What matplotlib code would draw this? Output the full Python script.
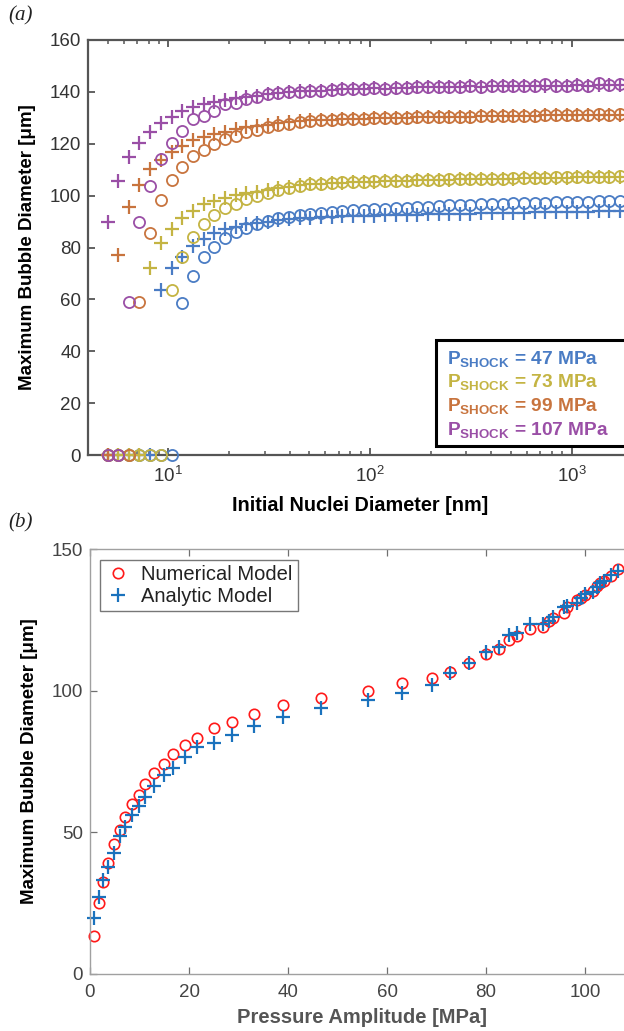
import matplotlib
matplotlib.use("Agg")
import matplotlib.pyplot as plt
from matplotlib.ticker import LogLocator, NullFormatter, LogFormatterSciNotation
from matplotlib.patches import Rectangle

plt.rcParams['font.family'] = ['Liberation Sans', 'DejaVu Sans']
plt.rcParams['mathtext.fontset'] = 'custom'
plt.rcParams['mathtext.rm'] = 'Liberation Sans'
plt.rcParams['mathtext.bf'] = 'Liberation Sans:bold'
plt.rcParams['mathtext.it'] = 'Liberation Sans:italic'

# ---------------- data: panel (a) ----------------
nuclei_nm = [5.00, 5.65, 6.38, 7.20, 8.14, 9.19, 10.4, 11.7, 13.3, 15.0,
             16.9, 19.1, 21.6, 24.4, 27.5, 31.1, 35.1, 39.7, 44.8, 50.6,
             57.2, 64.6, 73.0, 82.4, 93.1, 105, 119, 134, 152, 171,
             194, 219, 247, 279, 315, 356, 402, 455, 513, 580,
             655, 740, 836, 944, 1067, 1205, 1361, 1538, 1740]

num_47 = [0, 0, 0, 0, 0, 0, 0, 58.5, 69.2, 76.2,
          80.2, 83.5, 85.8, 87.5, 89.0, 90.3, 91.2, 91.9, 92.5, 93.0,
          93.4, 93.8, 94.1, 94.4, 94.6, 94.8, 95.0, 95.2, 95.4, 95.6,
          95.8, 96.0, 96.2, 96.3, 96.5, 96.6, 96.7, 96.9, 97.0, 97.1,
          97.2, 97.3, 97.4, 97.5, 97.6, 97.7, 97.8, 97.9, 98.0]
ana_47 = [0, 0, 0, 0, 0, 63.6, 72.2, 76.2, 80.6, 83.1,
          85.5, 87.1, 88.0, 88.9, 89.4, 90.0, 90.5, 90.9, 91.2, 91.5,
          91.7, 91.9, 92.0, 92.1, 92.2, 92.3, 92.4, 92.5, 92.6, 92.7,
          92.8, 92.9, 93.0, 93.0, 93.1, 93.2, 93.2, 93.3, 93.4, 93.4,
          93.5, 93.6, 93.6, 93.7, 93.8, 93.8, 93.9, 94.0, 94.0]

num_73 = [0, 0, 0, 0, 0, 0, 63.6, 76.2, 84.2, 89.2,
          92.7, 95.1, 96.9, 98.6, 100.0, 101.2, 102.1, 102.9, 103.6, 104.3,
          104.6, 104.9, 105.1, 105.2, 105.4, 105.5, 105.6, 105.7, 105.8, 106.0,
          106.1, 106.2, 106.3, 106.4, 106.4, 106.5, 106.6, 106.6, 106.7, 106.8,
          106.8, 106.9, 107.0, 107.0, 107.1, 107.1, 107.2, 107.3, 107.4]
ana_73 = [0, 0, 0, 0, 72.0, 81.9, 87.0, 91.2, 94.2, 96.6,
          97.9, 99.0, 100.2, 101.1, 101.5, 102.3, 102.9, 103.5, 104.0, 104.3,
          104.6, 104.8, 105.0, 105.1, 105.3, 105.4, 105.5, 105.6, 105.7, 105.9,
          106.0, 106.1, 106.2, 106.3, 106.3, 106.4, 106.5, 106.5, 106.6, 106.7,
          106.7, 106.8, 106.9, 106.9, 107.0, 107.0, 107.1, 107.2, 107.2]

num_99 = [0, 0, 0, 59.0, 85.5, 98.3, 106.0, 111.1, 115.3, 117.6,
          119.9, 121.9, 123.1, 124.4, 125.4, 126.3, 127.1, 127.8, 128.3, 128.8,
          129.1, 129.3, 129.4, 129.6, 129.7, 129.8, 129.9, 130.0, 130.1, 130.2,
          130.3, 130.4, 130.4, 130.5, 130.5, 130.6, 130.6, 130.7, 130.7, 130.8,
          130.8, 130.9, 131.0, 131.0, 131.1, 131.1, 131.5, 131.2, 131.3]
ana_99 = [0, 77.1, 95.8, 104.0, 110.2, 113.9, 116.7, 119.1, 121.5, 122.7,
          123.7, 124.6, 125.5, 126.3, 126.8, 127.2, 128.0, 128.4, 128.7, 129.0,
          129.1, 129.3, 129.4, 129.5, 129.7, 129.8, 129.9, 130.0, 130.1, 130.2,
          130.3, 130.4, 130.4, 130.5, 130.5, 130.6, 130.6, 130.7, 130.7, 130.8,
          130.8, 130.9, 130.9, 131.0, 131.0, 131.1, 131.1, 131.2, 131.2]

num_107 = [0, 0, 59.0, 90.0, 103.8, 114.0, 120.1, 124.8, 129.4, 130.8,
           132.6, 135.3, 135.9, 137.2, 137.9, 139.0, 139.5, 139.8, 140.1, 140.3,
           140.4, 140.7, 141.0, 141.0, 141.1, 141.4, 141.3, 141.4, 141.5, 141.7,
           141.8, 141.8, 141.7, 141.9, 142.1, 142.0, 142.2, 142.1, 142.3, 142.2,
           142.4, 143.2, 142.4, 142.4, 142.5, 142.4, 143.5, 142.5, 142.9]
ana_107 = [89.9, 105.8, 115.0, 120.4, 124.4, 127.9, 130.2, 132.5, 134.0, 135.2,
           136.2, 136.9, 137.5, 137.9, 138.4, 139.2, 139.6, 139.8, 140.2, 140.3,
           140.4, 140.7, 141.0, 141.0, 141.1, 141.4, 141.3, 141.4, 141.5, 141.7,
           141.8, 141.8, 141.7, 141.9, 142.1, 142.0, 142.2, 142.1, 142.3, 142.2,
           142.4, 142.3, 142.4, 142.4, 142.5, 142.4, 142.6, 142.5, 142.7]

shock_labels = ['47', '73', '99', '107']
shock_colors = ['#4a7cc4', '#c4b443', '#c8743e', '#9a4fa6']

# ---------------- data: panel (b) ----------------
pressure_mpa = [0.8, 1.8, 2.7, 3.7, 4.8, 6.0, 7.1, 8.5, 9.8, 11.2,
                13.0, 15.0, 16.8, 19.1, 21.7, 25.0, 28.7, 33.1, 38.9, 46.7,
                56.2, 63.0, 69.0, 72.7, 76.6, 80.1, 82.6, 84.6, 86.2, 88.9,
                91.6, 92.8, 93.6, 95.8, 96.3, 98.4, 99.2, 100.0, 101.6, 102.5,
                103.0, 103.9, 105.2, 106.7]
numerical_model = [13.4, 25.1, 32.3, 39.3, 45.9, 50.8, 55.3, 59.9, 63.2, 66.9,
                   70.8, 74.1, 77.5, 80.8, 83.2, 86.7, 89.1, 91.8, 94.9, 97.3,
                   100.0, 102.6, 104.6, 106.7, 109.9, 112.8, 114.7, 117.9, 119.3, 121.7,
                   122.6, 124.6, 125.6, 127.5, 129.4, 132.0, 132.6, 133.8, 135.2, 137.0,
                   137.9, 138.7, 140.5, 142.9]
analytic_model = [19.6, 27.3, 33.2, 37.9, 42.8, 48.7, 52.0, 56.1, 59.3, 62.4,
                  66.3, 70.2, 72.6, 76.7, 80.0, 81.4, 84.4, 87.5, 90.6, 94.0,
                  96.7, 99.1, 102.0, 106.4, 109.7, 113.8, 115.3, 119.7, 120.5, 123.6,
                  123.6, 124.6, 125.9, 129.4, 129.9, 131.1, 132.6, 134.0, 135.0, 136.5,
                  137.9, 138.8, 140.8, 142.4]

W, H = 624, 1031
fig = plt.figure(figsize=(W / 100, H / 100), dpi=100)

def frac_box(left, top, right, bottom):
    return [left / W, 1 - bottom / H, (right - left) / W, (bottom - top) / H]

# ---------------- panel (a) ----------------
ax1 = fig.add_axes(frac_box(88, 40, 632.4, 455))
num_sets = [num_47, num_73, num_99, num_107]
ana_sets = [ana_47, ana_73, ana_99, ana_107]
for nm, an, col in zip(num_sets, ana_sets, shock_colors):
    ax1.plot(nuclei_nm, nm, linestyle='none', marker='o', ms=8, mfc='none',
             mec=col, mew=1.3, clip_on=False, zorder=3)
    ax1.plot(nuclei_nm, an, linestyle='none', marker='+', ms=10, mec=col,
             mew=1.6, clip_on=False, zorder=3)
ax1.set_xscale('log')
ax1.set_xlim(4, 2000)
ax1.set_ylim(0, 160)
ax1.set_yticks(range(0, 161, 20))
ax1.xaxis.set_major_locator(LogLocator(base=10, numticks=10))
ax1.xaxis.set_major_formatter(LogFormatterSciNotation())
ax1.xaxis.set_minor_locator(LogLocator(base=10, subs=range(2, 10), numticks=20))
ax1.xaxis.set_minor_formatter(NullFormatter())
for sp in ax1.spines.values():
    sp.set_color('#555555')
    sp.set_linewidth(1.6)
ax1.tick_params(axis='both', which='major', direction='in', length=5, width=1.3,
                color='#555555', labelsize=13.5, labelcolor='#333333',
                top=True, right=True, pad=5)
ax1.tick_params(axis='x', which='major', pad=8)
ax1.tick_params(axis='x', which='minor', direction='in', length=3, width=1.1,
                color='#555555', top=True)
ax1.set_xlabel('Initial Nuclei Diameter [nm]', fontsize=14.3, fontweight='bold',
               labelpad=7)
ax1.set_ylabel('Maximum Bubble Diameter [\u03bcm]', fontsize=13.5,
               fontweight='bold', labelpad=10)

# legend box of panel (a)
box = Rectangle((436 / W, 1 - 446 / H), 200 / W, 106 / H, transform=fig.transFigure,
                facecolor='white', edgecolor='black', linewidth=2.2, zorder=10)
fig.patches.append(box)
for k, (lab, col) in enumerate(zip(shock_labels, shock_colors)):
    y = 359 + k * 23.5
    fig.text(447 / W, 1 - y / H,
             r'$\mathbf{P}_{\mathbf{SHOCK}}$' + ' = ' + lab + ' MPa',
             color=col, fontsize=13.8, fontweight='bold', va='center', ha='left',
             zorder=11)

fig.text(8 / W, 1 - 16 / H, '(a)', fontsize=15, fontstyle='italic',
         family='Liberation Serif', va='center', ha='left', color='#222222')

# ---------------- panel (b) ----------------
ax2 = fig.add_axes(frac_box(90, 549, 634.5, 974))
ax2.plot(pressure_mpa, numerical_model, linestyle='none', marker='o', ms=7.5,
         mfc='none', mec='#ff1a1a', mew=1.2, label='Numerical Model', clip_on=False)
ax2.plot(pressure_mpa, analytic_model, linestyle='none', marker='+', ms=10,
         mec='#1a72bd', mew=1.6, label='Analytic Model', clip_on=False)
ax2.set_xlim(0, 110)
ax2.set_ylim(0, 150)
ax2.set_xticks(range(0, 101, 20))
ax2.set_yticks([0, 50, 100, 150])
for sp in ax2.spines.values():
    sp.set_color('#a0a0a0')
    sp.set_linewidth(1.0)
ax2.tick_params(axis='both', which='major', direction='in', length=5, width=0.9,
                color='#707070', labelsize=13.5, labelcolor='#444444',
                top=True, right=True, pad=5)
ax2.tick_params(axis='x', which='major', pad=7)
ax2.set_xlabel('Pressure Amplitude [MPa]', fontsize=14.5, fontweight='bold',
               color='#555555', labelpad=5)
ax2.set_ylabel('Maximum Bubble Diameter [\u03bcm]', fontsize=13.5,
               fontweight='bold', labelpad=10)
leg = ax2.legend(loc='upper left', bbox_to_anchor=(10 / 544.5, 1 - 11 / 425),
                 fontsize=14.5, frameon=True, fancybox=False, borderaxespad=0,
                 handletextpad=0.5, borderpad=0.25, labelspacing=0.15,
                 handlelength=1.3, labelcolor='#222222')
leg.get_frame().set_edgecolor('#555555')
leg.get_frame().set_linewidth(1.0)

fig.text(8 / W, 1 - 523 / H, '(b)', fontsize=15, fontstyle='italic',
         family='Liberation Serif', va='center', ha='left', color='#222222')

fig.savefig('out.png', dpi=100)
